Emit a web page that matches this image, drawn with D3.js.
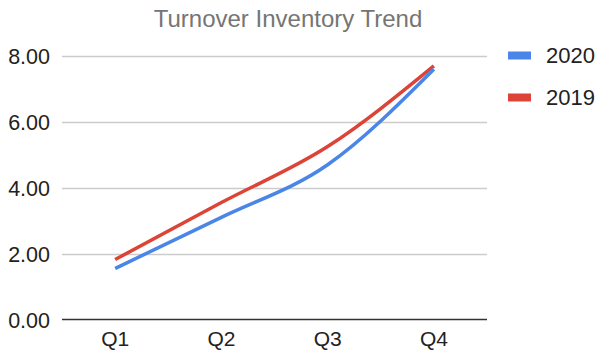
<!DOCTYPE html>
<html><head><meta charset="utf-8">
<script src="https://cdn.jsdelivr.net/npm/d3@7"></script>
<style>body{margin:0;background:#fff;}svg{display:block;}</style>
</head><body>
<svg id="c" width="597" height="355"></svg>
<script>
const categories = ["Q1","Q2","Q3","Q4"];
const series2020 = [1.55, 3.1, 4.7, 7.6];
const series2019 = [1.82, 3.55, 5.25, 7.7];
const seriesNames = ["2020","2019"];
const seriesColors = ["#4a86e8","#db4437"];
const yTicks = [0,2,4,6,8];
const title = "Turnover Inventory Trend";

const svg = d3.select("#c");
const font = "Arial, 'Liberation Sans', sans-serif";
const x = d3.scaleBand().domain(categories).range([62,487]);
const y = d3.scaleLinear().domain([0,8]).range([319.5,56]);

svg.append("text").attr("x",288).attr("y",27).attr("text-anchor","middle")
  .attr("font-family",font).attr("font-size",24).attr("fill","#757575").text(title);

const grid = svg.append("g");
grid.selectAll("line").data(yTicks.filter(d=>d>0)).join("line")
  .attr("x1",62).attr("x2",487).attr("y1",d=>Math.round(y(d))+0.5).attr("y2",d=>Math.round(y(d))+0.5)
  .attr("stroke","#cccccc").attr("stroke-width",1.3);

const yAxis = svg.append("g").attr("transform","translate(62,0)")
  .call(d3.axisLeft(y).tickValues(yTicks).tickFormat(d3.format(".2f")).tickSize(0).tickPadding(12));
yAxis.select(".domain").remove();
yAxis.selectAll("text").attr("font-family",font).attr("font-size",21.5).attr("fill","#222").attr("dy","0.35em");

const xAxis = svg.append("g").attr("transform",`translate(0,${y(0)})`)
  .call(d3.axisBottom(x).tickSize(0).tickPadding(12));
xAxis.select(".domain").remove();
xAxis.selectAll("text").attr("font-family",font).attr("font-size",21).attr("fill","#222");

svg.append("line").attr("x1",62).attr("x2",487).attr("y1",y(0)).attr("y2",y(0))
  .attr("stroke","#333").attr("stroke-width",1.5);

const line = d3.line().x((d,i)=>x(categories[i])+x.bandwidth()/2).y(d=>y(d)).curve(d3.curveMonotoneX);
[series2019, series2020].forEach((s,k)=>{
  const idx = k===0?1:0;
  svg.append("path").datum(s).attr("d",line).attr("fill","none")
    .attr("stroke",seriesColors[idx]).attr("stroke-width",3.5).attr("stroke-linecap","butt");
});

const leg = svg.append("g");
seriesNames.forEach((n,i)=>{
  const g = leg.append("g").attr("transform",`translate(508,${55.5+i*42})`);
  g.append("rect").attr("x",0).attr("y",-4).attr("width",23).attr("height",8).attr("fill",seriesColors[i]);
  g.append("text").attr("x",38).attr("y",7.5).attr("font-family",font).attr("font-size",22).attr("fill","#222").text(n);
});
</script>
</body></html>
